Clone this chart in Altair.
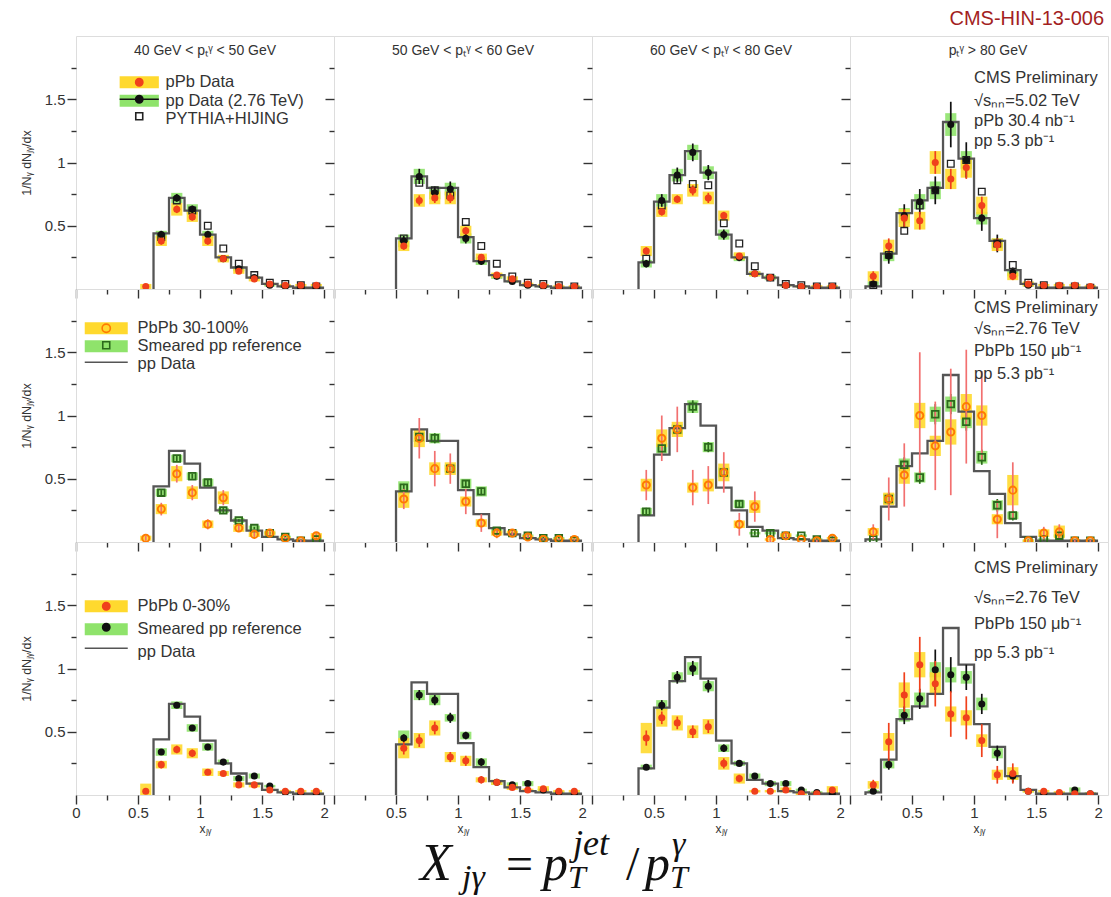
import altair as alt
import pandas as pd

# ---------------------------------------------------------------- data
c1 = [0.5625, 0.6875, 0.8125, 0.9375, 1.0625, 1.1875, 1.3125, 1.4375, 1.5625, 1.6875, 1.8125, 1.9375]
c2 = [0.5625, 0.6875, 0.8125, 0.9375, 1.0625, 1.1875, 1.3125, 1.4375, 1.5625, 1.6875, 1.8125, 1.9375]
c3 = [0.4375, 0.5625, 0.6875, 0.8125, 0.9375, 1.0625, 1.1875, 1.3125, 1.4375, 1.5625, 1.6875, 1.8125, 1.9375]
c4 = [0.1875, 0.3125, 0.4375, 0.5625, 0.6875, 0.8125, 0.9375, 1.0625, 1.1875, 1.3125, 1.4375, 1.5625, 1.6875, 1.8125, 1.9375]

# pp data histograms (bin edges / contents), one per photon-pT bin
s1_edges = [0.625, 0.75, 0.875, 1.0, 1.125, 1.25, 1.375, 1.5, 1.625, 1.75, 1.875, 2.0]
s1_vals = [0.44, 0.72, 0.62, 0.43, 0.25, 0.17, 0.09, 0.04, 0.02, 0.01, 0.01]
s2_edges = [0.5, 0.625, 0.75, 0.875, 1.0, 1.125, 1.25, 1.375, 1.5, 1.625, 1.75, 1.875, 2.0]
s2_vals = [0.40, 0.89, 0.80, 0.80, 0.41, 0.22, 0.11, 0.06, 0.03, 0.02, 0.01, 0.01]
s3_edges = [0.375, 0.5, 0.625, 0.75, 0.875, 1.0, 1.125, 1.25, 1.375, 1.5, 1.625, 1.75, 1.875, 2.0]
s3_vals = [0.21, 0.69, 0.90, 1.09, 0.92, 0.43, 0.25, 0.12, 0.09, 0.03, 0.02, 0.01, 0.01]
s4_edges = [0.125, 0.25, 0.375, 0.5, 0.625, 0.75, 0.875, 1.0, 1.125, 1.25, 1.375, 1.5, 1.625, 1.75, 1.875, 2.0]
s4_vals = [0.02, 0.28, 0.60, 0.70, 0.80, 1.32, 1.03, 0.56, 0.38, 0.15, 0.04, 0.01, 0.01, 0.01, 0.01]

# row 1: pPb
r1c1_ppb = [0.02, 0.38, 0.63, 0.57, 0.38, 0.24, 0.14, 0.08, 0.04, 0.03, 0.03, 0.03]
r1c1_ppb_stat = [0.02, 0.03, 0.03, 0.03, 0.03, 0.02, 0.02, 0.01, 0.01, 0.01, 0.01, 0.01]
r1c1_ppb_syst = [0.02, 0.04, 0.05, 0.04, 0.04, 0.03, 0.02, 0.02, 0.01, 0.01, 0.01, 0.01]
r1c1_pp = [None, 0.43, 0.72, 0.63, 0.43, 0.24, 0.16, 0.09, 0.03, 0.02, 0.01, 0.01]
r1c1_pp_stat = [0.0, 0.03, 0.03, 0.03, 0.03, 0.02, 0.02, 0.01, 0.01, 0.01, 0.01, 0.01]
r1c1_pp_syst = [0.0, 0.03, 0.04, 0.04, 0.03, 0.02, 0.02, 0.01, 0.01, 0.01, 0.01, 0.01]
r1c1_mc = [None, 0.41, 0.70, 0.62, 0.50, 0.32, 0.20, 0.11, 0.05, 0.04, 0.03, 0.02]

r1c2_ppb = [0.34, 0.70, 0.72, 0.72, 0.46, 0.25, 0.11, 0.08, 0.04, 0.03, 0.02, 0.02]
r1c2_ppb_stat = [0.03, 0.04, 0.04, 0.04, 0.03, 0.02, 0.02, 0.01, 0.01, 0.01, 0.01, 0.01]
r1c2_ppb_syst = [0.04, 0.05, 0.05, 0.05, 0.04, 0.03, 0.02, 0.02, 0.01, 0.01, 0.01, 0.01]
r1c2_pp = [0.38, 0.89, 0.76, 0.79, 0.40, 0.22, 0.10, 0.06, 0.03, 0.02, 0.01, 0.01]
r1c2_pp_stat = [0.04, 0.06, 0.05, 0.06, 0.04, 0.03, 0.02, 0.02, 0.01, 0.01, 0.01, 0.01]
r1c2_pp_syst = [0.05, 0.06, 0.05, 0.05, 0.04, 0.03, 0.02, 0.01, 0.01, 0.01, 0.01, 0.01]
r1c2_mc = [0.40, 0.84, 0.78, 0.74, 0.53, 0.34, 0.20, 0.10, 0.05, 0.04, 0.03, 0.02]

r1c3_ppb = [0.30, 0.61, 0.71, 0.78, 0.72, 0.58, 0.26, 0.12, 0.09, 0.03, 0.02, 0.02, 0.02]
r1c3_ppb_stat = [0.03, 0.03, 0.03, 0.04, 0.04, 0.03, 0.02, 0.02, 0.01, 0.01, 0.01, 0.01, 0.01]
r1c3_ppb_syst = [0.04, 0.04, 0.04, 0.05, 0.05, 0.04, 0.03, 0.02, 0.01, 0.01, 0.01, 0.01, 0.01]
r1c3_pp = [0.20, 0.70, 0.90, 1.08, 0.92, 0.43, 0.25, 0.12, 0.09, 0.03, 0.02, 0.01, 0.01]
r1c3_pp_stat = [0.03, 0.05, 0.06, 0.07, 0.06, 0.04, 0.03, 0.02, 0.02, 0.01, 0.01, 0.01, 0.01]
r1c3_pp_syst = [0.03, 0.05, 0.05, 0.06, 0.05, 0.04, 0.03, 0.02, 0.02, 0.01, 0.01, 0.01, 0.01]
r1c3_mc = [0.24, 0.66, 0.86, 0.83, 0.82, 0.52, 0.36, 0.18, 0.09, 0.04, 0.03, 0.02, 0.02]

r1c4_ppb = [0.10, 0.34, 0.56, 0.54, 1.00, 0.87, 0.96, 0.66, 0.35, 0.10, 0.04, 0.03, 0.03, 0.03, 0.02]
r1c4_ppb_stat = [0.04, 0.06, 0.07, 0.07, 0.09, 0.08, 0.09, 0.07, 0.05, 0.03, 0.02, 0.01, 0.01, 0.01, 0.01]
r1c4_ppb_syst = [0.04, 0.05, 0.07, 0.07, 0.09, 0.08, 0.08, 0.07, 0.05, 0.03, 0.02, 0.01, 0.01, 0.01, 0.01]
r1c4_pp = [0.04, 0.26, 0.58, 0.69, 0.78, 1.30, 1.02, 0.56, 0.36, 0.13, 0.03, 0.01, 0.01, 0.01, 0.01]
r1c4_pp_stat = [0.02, 0.06, 0.09, 0.10, 0.11, 0.18, 0.14, 0.10, 0.07, 0.04, 0.02, 0.01, 0.01, 0.01, 0.01]
r1c4_pp_syst = [0.02, 0.04, 0.06, 0.06, 0.07, 0.09, 0.07, 0.05, 0.04, 0.03, 0.01, 0.01, 0.01, 0.01, 0.01]
r1c4_mc = [0.03, 0.27, 0.46, 0.66, 0.78, 0.99, 1.02, 0.77, 0.36, 0.19, 0.05, 0.03, 0.02, 0.02, 0.01]

# row 2: PbPb 30-100%
r2c1_pbpb = [0.03, 0.26, 0.54, 0.39, 0.14, 0.35, 0.11, 0.06, 0.07, 0.03, 0.01, 0.05]
r2c1_pbpb_stat = [0.02, 0.05, 0.07, 0.06, 0.04, 0.06, 0.03, 0.02, 0.02, 0.01, 0.01, 0.02]
r2c1_pbpb_syst = [0.02, 0.04, 0.06, 0.05, 0.03, 0.05, 0.03, 0.02, 0.02, 0.01, 0.01, 0.02]
r2c1_ref = [None, 0.39, 0.66, 0.52, 0.47, 0.25, 0.17, 0.11, 0.07, 0.04, 0.01, 0.02]
r2c1_ref_stat = [0.0, 0.02, 0.02, 0.02, 0.02, 0.02, 0.01, 0.01, 0.01, 0.01, 0.01, 0.01]
r2c1_ref_syst = [0.0, 0.03, 0.03, 0.03, 0.03, 0.02, 0.02, 0.02, 0.01, 0.01, 0.01, 0.01]

r2c2_pbpb = [0.34, 0.82, 0.58, 0.58, 0.32, 0.15, 0.07, 0.07, 0.04, 0.02, 0.02, 0.02]
r2c2_pbpb_stat = [0.08, 0.16, 0.14, 0.12, 0.10, 0.07, 0.04, 0.03, 0.02, 0.01, 0.01, 0.01]
r2c2_pbpb_syst = [0.07, 0.07, 0.05, 0.05, 0.04, 0.03, 0.02, 0.02, 0.01, 0.01, 0.01, 0.01]
r2c2_ref = [0.43, 0.83, 0.82, 0.58, 0.46, 0.40, 0.09, 0.07, 0.05, 0.03, 0.03, 0.01]
r2c2_ref_stat = [0.03, 0.04, 0.04, 0.03, 0.03, 0.03, 0.02, 0.01, 0.01, 0.01, 0.01, 0.01]
r2c2_ref_syst = [0.05, 0.04, 0.04, 0.03, 0.04, 0.04, 0.02, 0.01, 0.01, 0.01, 0.01, 0.01]

r2c3_pbpb = [0.45, 0.82, 0.89, 0.43, 0.45, 0.55, 0.14, 0.28, 0.02, 0.05, 0.02, 0.01, 0.03]
r2c3_pbpb_stat = [0.12, 0.18, 0.18, 0.14, 0.15, 0.16, 0.09, 0.12, 0.02, 0.03, 0.01, 0.01, 0.02]
r2c3_pbpb_syst = [0.05, 0.07, 0.06, 0.04, 0.05, 0.07, 0.03, 0.05, 0.01, 0.02, 0.01, 0.01, 0.01]
r2c3_ref = [0.24, 0.74, 0.89, 1.07, 0.75, 0.55, 0.30, 0.07, 0.07, 0.05, 0.05, 0.02, 0.01]
r2c3_ref_stat = [0.03, 0.04, 0.04, 0.05, 0.04, 0.04, 0.03, 0.02, 0.02, 0.01, 0.01, 0.01, 0.01]
r2c3_ref_syst = [0.03, 0.04, 0.04, 0.05, 0.04, 0.04, 0.03, 0.01, 0.01, 0.01, 0.01, 0.01, 0.01]

r2c4_pbpb = [0.08, 0.34, 0.53, 1.00, 0.76, 0.87, 1.07, 1.00, 0.18, 0.41, 0.01, 0.07, 0.08, 0.01, 0.01]
r2c4_pbpb_stat = [0.06, 0.17, 0.25, 0.50, 0.35, 0.50, 0.45, 0.35, 0.15, 0.22, 0.01, 0.05, 0.06, 0.01, 0.01]
r2c4_pbpb_syst = [0.03, 0.05, 0.07, 0.10, 0.08, 0.10, 0.10, 0.08, 0.04, 0.12, 0.01, 0.03, 0.05, 0.01, 0.01]
r2c4_ref = [0.02, 0.34, 0.61, 0.51, 1.01, 1.09, 0.95, 0.67, 0.29, 0.21, 0.01, 0.02, 0.05, 0.01, 0.01]
r2c4_ref_stat = [0.01, 0.05, 0.06, 0.05, 0.08, 0.08, 0.07, 0.06, 0.05, 0.04, 0.01, 0.01, 0.02, 0.01, 0.01]
r2c4_ref_syst = [0.01, 0.04, 0.05, 0.04, 0.06, 0.06, 0.05, 0.05, 0.04, 0.03, 0.01, 0.01, 0.01, 0.01, 0.01]

# row 3: PbPb 0-30%
r3c1_pbpb = [0.03, 0.24, 0.36, 0.33, 0.18, 0.17, 0.08, 0.08, 0.04, 0.03, 0.03, 0.03]
r3c1_pbpb_stat = [0.02, 0.03, 0.03, 0.03, 0.02, 0.02, 0.02, 0.02, 0.01, 0.01, 0.01, 0.01]
r3c1_pbpb_syst = [0.06, 0.03, 0.04, 0.04, 0.03, 0.02, 0.02, 0.02, 0.01, 0.01, 0.01, 0.01]
r3c1_ref = [None, 0.34, 0.71, 0.53, 0.38, 0.26, 0.13, 0.15, 0.07, 0.02, 0.01, 0.01]
r3c1_ref_stat = [0.0, 0.02, 0.02, 0.02, 0.02, 0.02, 0.01, 0.01, 0.01, 0.01, 0.01, 0.01]
r3c1_ref_syst = [0.0, 0.03, 0.03, 0.03, 0.03, 0.02, 0.02, 0.02, 0.01, 0.01, 0.01, 0.01]

r3c2_pbpb = [0.37, 0.43, 0.53, 0.30, 0.27, 0.12, 0.10, 0.06, 0.04, 0.05, 0.03, 0.03]
r3c2_pbpb_stat = [0.05, 0.05, 0.05, 0.04, 0.04, 0.03, 0.02, 0.02, 0.01, 0.02, 0.01, 0.01]
r3c2_pbpb_syst = [0.08, 0.06, 0.06, 0.04, 0.04, 0.02, 0.02, 0.02, 0.01, 0.02, 0.01, 0.01]
r3c2_ref = [0.45, 0.79, 0.75, 0.61, 0.47, 0.26, 0.10, 0.08, 0.09, 0.04, 0.02, 0.01]
r3c2_ref_stat = [0.03, 0.04, 0.04, 0.04, 0.03, 0.03, 0.02, 0.02, 0.02, 0.01, 0.01, 0.01]
r3c2_ref_syst = [0.06, 0.04, 0.04, 0.03, 0.03, 0.03, 0.02, 0.02, 0.02, 0.01, 0.01, 0.01]

r3c3_pbpb = [0.45, 0.61, 0.57, 0.50, 0.54, 0.25, 0.13, 0.03, 0.03, 0.04, 0.01, 0.01, 0.04]
r3c3_pbpb_stat = [0.06, 0.05, 0.05, 0.05, 0.05, 0.04, 0.03, 0.01, 0.01, 0.02, 0.01, 0.01, 0.02]
r3c3_pbpb_syst = [0.12, 0.07, 0.06, 0.05, 0.06, 0.05, 0.04, 0.01, 0.01, 0.02, 0.01, 0.01, 0.03]
r3c3_ref = [0.22, 0.71, 0.93, 1.00, 0.86, 0.37, 0.25, 0.15, 0.09, 0.09, 0.04, 0.02, 0.01]
r3c3_ref_stat = [0.02, 0.04, 0.05, 0.06, 0.05, 0.03, 0.02, 0.02, 0.02, 0.02, 0.01, 0.01, 0.01]
r3c3_ref_syst = [0.02, 0.04, 0.04, 0.05, 0.04, 0.03, 0.02, 0.02, 0.02, 0.02, 0.01, 0.01, 0.01]

r3c4_pbpb = [0.08, 0.42, 0.79, 1.03, 0.88, 0.64, 0.61, 0.43, 0.16, 0.17, 0.03, 0.03, 0.02, 0.01, 0.01]
r3c4_pbpb_stat = [0.04, 0.15, 0.18, 0.22, 0.18, 0.18, 0.17, 0.13, 0.07, 0.08, 0.01, 0.01, 0.01, 0.01, 0.01]
r3c4_pbpb_syst = [0.03, 0.07, 0.10, 0.10, 0.09, 0.06, 0.06, 0.05, 0.04, 0.05, 0.01, 0.01, 0.01, 0.01, 0.01]
r3c4_ref = [0.03, 0.24, 0.63, 0.76, 0.99, 0.95, 0.93, 0.72, 0.33, 0.15, 0.03, 0.01, 0.01, 0.04, 0.01]
r3c4_ref_stat = [0.01, 0.04, 0.07, 0.08, 0.16, 0.14, 0.10, 0.08, 0.06, 0.05, 0.01, 0.01, 0.01, 0.01, 0.01]
r3c4_ref_syst = [0.01, 0.03, 0.05, 0.05, 0.06, 0.06, 0.05, 0.05, 0.04, 0.03, 0.01, 0.01, 0.01, 0.02, 0.01]

# texts
heads = ["40 GeV < pₜᵞ < 50 GeV", "50 GeV < pₜᵞ < 60 GeV", "60 GeV < pₜᵞ < 80 GeV", "pₜᵞ > 80 GeV"]
notes_r1 = ["CMS Preliminary", "√sₙₙ=5.02 TeV", "pPb 30.4 nb⁻¹", "pp 5.3 pb⁻¹"]
notes_r2 = ["CMS Preliminary", "√sₙₙ=2.76 TeV", "PbPb 150 μb⁻¹", "pp 5.3 pb⁻¹"]
notes_r3 = ["CMS Preliminary", "√sₙₙ=2.76 TeV", "PbPb 150 μb⁻¹", "pp 5.3 pb⁻¹"]
legend_r1 = ["pPb Data", "pp Data (2.76 TeV)", "PYTHIA+HIJING"]
legend_r2 = ["PbPb 30-100%", "Smeared pp reference", "pp Data"]
legend_r3 = ["PbPb 0-30%", "Smeared pp reference", "pp Data"]
x_ticks = [0, 0.25, 0.5, 0.75, 1.0, 1.25, 1.5, 1.75, 2.0]
y_ticks = [0.25, 0.5, 0.75, 1.0, 1.25, 1.5, 1.75]
x_title = "xⱼᵧ"
y_title = "1/Nᵧ dNⱼᵧ/dx"
top_label = "CMS-HIN-13-006"
formula_parts = ["X", "jγ", "=", "p", "jet", "T", "/", "p", "γ", "T"]

# ---------------------------------------------------------------- style
FONT = "Liberation Sans"
SERIF = "Liberation Serif"
W, H = 258, 253
XMAX = 2.08
BOX_HW = 0.045
AXC = "#333333"
YELLOW = "#ffd92e"
GREEN = "#8fe36b"
RED = "#f0401c"
LIGHTRED = "#f27070"
ORANGE = "#ff7b00"
DKGREEN = "#2c6a1c"
BLACK = "#111111"
STEPC = "#555555"

STY = {
    "ppb": dict(box=YELLOW, err=RED, mark=dict(shape="circle", filled=True, color=RED, size=50)),
    "pp": dict(box=GREEN, err=BLACK, mark=dict(shape="circle", filled=True, color=BLACK, size=50)),
    "mc": dict(box=None, err=None, mark=dict(shape="square", filled=False, color="#222222", size=44, strokeWidth=1.3)),
    "hi30": dict(box=YELLOW, err=LIGHTRED, mark=dict(shape="circle", filled=False, color=ORANGE, size=50, strokeWidth=2)),
    "ref30": dict(box=GREEN, err=DKGREEN, mark=dict(shape="square", filled=False, color=DKGREEN, size=44, strokeWidth=1.8)),
    "hi0": dict(box=YELLOW, err=RED, mark=dict(shape="circle", filled=True, color=RED, size=50)),
    "ref0": dict(box=GREEN, err=BLACK, mark=dict(shape="circle", filled=True, color=BLACK, size=50)),
}

XS = alt.Scale(domain=[0, XMAX], nice=False, zero=False)
YS = alt.Scale(domain=[0, 2], nice=False, zero=False)
TICKSIZE = {"condition": {"test": "(datum.value * 4) % 2 === 0", "value": 9}, "value": 5}


def points_df(xs, vals, stat, syst):
    rows = []
    for i, (x, v) in enumerate(zip(xs, vals)):
        if v is None:
            continue
        rows.append({"x": x, "v": v, "lo": v - stat[i], "hi": v + stat[i],
                     "slo": max(v - syst[i], 0.0), "shi": v + syst[i],
                     "bx0": x - BOX_HW, "bx1": x + BOX_HW})
    return pd.DataFrame(rows)


def step_df(edges, vals):
    xs = [edges[0]] + list(edges)
    ys = [0.0] + list(vals) + [vals[-1]]
    return pd.DataFrame({"x": xs, "y": ys, "i": list(range(len(xs)))})


def x_axis(col, row):
    kw = dict(values=x_ticks, domain=False, grid=False, tickColor=AXC, tickWidth=1.4,
              tickSize=TICKSIZE, labelOverlap=False, labelFlush=False)
    if row == 2:
        if col == 0:
            expr = "(datum.value * 4) % 2 === 0 ? format(datum.value, '~g') : ''"
        else:
            expr = "datum.value > 0 && (datum.value * 4) % 2 === 0 ? format(datum.value, '~g') : ''"
        kw.update(labels=True, labelExpr=expr, labelFont=FONT, labelFontSize=15, labelColor=AXC,
                  labelPadding=1, title=x_title, titleFont=FONT, titleFontSize=12,
                  titleFontWeight="normal", titleColor=AXC, titlePadding=3)
    else:
        kw.update(labels=False, title=None)
    return alt.Axis(**kw)


def y_axis(col):
    kw = dict(values=y_ticks, domain=False, grid=False, tickColor=AXC, tickWidth=1.4,
              tickSize=TICKSIZE, labelOverlap=False, labelFlush=False)
    if col == 0:
        kw.update(labels=True,
                  labelExpr="(datum.value * 4) % 2 === 0 ? format(datum.value, '~g') : ''",
                  labelFont=FONT, labelFontSize=15, labelColor=AXC, labelPadding=2,
                  title=y_title, titleFont=FONT, titleFontSize=12.5, titleFontWeight="normal",
                  titleColor=AXC, titlePadding=11)
    else:
        kw.update(labels=False, title=None)
    return alt.Axis(**kw)


def circ(r):
    return f"M-{r},0A{r},{r} 0 1,0 {r},0A{r},{r} 0 1,0 -{r},0Z"


def legend_layers(labels, boxcols, paths, fills, strokes, lx, ly, rowpad, laboff, boxhw):
    common = dict(orient="none", legendX=lx, legendY=ly, title=None, symbolSize=40,
                  symbolStrokeWidth=1.6, symbolOpacity=1, labelFont=FONT, labelFontSize=16.5,
                  labelColor=AXC, labelOffset=laboff, labelLimit=400, rowPadding=rowpad,
                  padding=0, offset=0)
    box = f"M-{boxhw},-1.9H{boxhw}V1.9H-{boxhw}Z"
    la = alt.Chart(pd.DataFrame({"lab": labels})).transform_filter("false").mark_point(opacity=1).encode(
        fill=alt.Fill("lab:N", scale=alt.Scale(domain=labels, range=boxcols),
                      legend=alt.Legend(symbolType=box, symbolStrokeColor="transparent", **common)))
    mks = ["mk" + str(i) for i in range(len(labels))]
    lgb = alt.Legend(labelOpacity=0, **common)
    lb = alt.Chart(pd.DataFrame({"mk": mks})).transform_filter("false").mark_point(opacity=1).encode(
        fill=alt.Fill("mk:N", scale=alt.Scale(domain=mks, range=fills), legend=lgb),
        stroke=alt.Stroke("mk:N", scale=alt.Scale(domain=mks, range=strokes), legend=lgb),
        shape=alt.Shape("mk:N", scale=alt.Scale(domain=mks, range=paths), legend=lgb))
    return [la, lb]


def text_layer(s, px, py, size, align="left", color=AXC, font=FONT, style="normal",
               clip=False, baseline="middle"):
    return alt.Chart(pd.DataFrame({"t": [s]})).mark_text(
        font=font, fontSize=size, align=align, baseline=baseline, color=color,
        fontStyle=style, clip=clip).encode(x=alt.value(px), y=alt.value(py), text="t:N")


def formula_layers():
    # X_jγ = p_T^jet / p_T^γ, placed below the bottom-left panel (y measured from its top)
    fpos = [(344, 85, 52, "italic"), (386, 93, 34, "italic"), (430, 85, 48, "normal"),
            (467, 85, 50, "italic"), (497, 60, 36, "italic"), (492, 93, 32, "italic"),
            (550, 85, 48, "normal"), (569, 85, 50, "italic"), (596, 60, 34, "italic"),
            (594, 93, 32, "italic")]
    return [text_layer(t, px, H + py, fs, color="#111111", font=SERIF, style=sty, baseline="alphabetic")
            for t, (px, py, fs, sty) in zip(formula_parts, fpos)]


def panel(row, col, series, sedges, svals, legend=None, notes=None, note_y=None, extra=None):
    xa, ya = x_axis(col, row), y_axis(col)
    layers = []
    for key, df in series:
        st = STY[key]
        if st["box"]:
            layers.append(alt.Chart(df).mark_rect(color=st["box"], opacity=0.9, clip=True).encode(
                x=alt.X("bx0:Q", scale=XS, axis=xa), x2="bx1:Q",
                y=alt.Y("slo:Q", scale=YS, axis=ya), y2="shi:Q"))
    layers.append(alt.Chart(step_df(sedges, svals)).mark_line(
        interpolate="step-after", color=STEPC, strokeWidth=2.3, clip=True).encode(
        x=alt.X("x:Q", scale=XS, axis=xa), y=alt.Y("y:Q", scale=YS, axis=ya), order="i:Q"))
    for key, df in series:
        st = STY[key]
        if st["err"]:
            layers.append(alt.Chart(df).mark_rule(color=st["err"], strokeWidth=1.7, clip=True).encode(
                x=alt.X("x:Q", scale=XS, axis=xa), y=alt.Y("lo:Q", scale=YS, axis=ya), y2="hi:Q"))
    for key, df in series:
        st = STY[key]
        layers.append(alt.Chart(df).mark_point(opacity=1, clip=True, **st["mark"]).encode(
            x=alt.X("x:Q", scale=XS, axis=xa), y=alt.Y("v:Q", scale=YS, axis=ya)))
    if row == 0:
        layers.append(text_layer(heads[col], 138 if col == 3 else 129, 15, 14, align="center"))
    if notes:
        for s, yy in zip(notes, note_y):
            layers.append(text_layer(s, 124, yy, 16.5, clip=True))
    if legend:
        layers += legend
    if extra:
        layers += extra
    return alt.layer(*layers).resolve_scale(
        fill="independent", stroke="independent", shape="independent").properties(width=W, height=H)


def S(key, xs, v, stat=None, syst=None):
    z = [0.0] * len(xs)
    return (key, points_df(xs, v, stat or z, syst or z))


# ---------------------------------------------------------------- panels
DOT = circ(1.15)
SQ = "M-1.1,-1.1H1.1V1.1H-1.1Z"
leg1 = legend_layers(legend_r1, [YELLOW, GREEN, "transparent"],
                     [DOT, "M-6.2,0H6.2M-1.15,0A1.15,1.15 0 1,0 1.15,0A1.15,1.15 0 1,0 -1.15,0Z", SQ],
                     [RED, BLACK, "white"], [RED, BLACK, "#222222"], 55, 38, -0.5, 18, 6.2)
leg2 = legend_layers(legend_r2, [YELLOW, GREEN, "transparent"],
                     [circ(1.3), SQ, "M-6.8,0H6.8"],
                     ["transparent", "transparent", "transparent"], [ORANGE, DKGREEN, STEPC], 22, 31, -1, 23, 6.8)
leg3 = legend_layers(legend_r3, [YELLOW, GREEN, "transparent"],
                     [DOT, DOT, "M-6.8,0H6.8"],
                     [RED, BLACK, "transparent"], [RED, BLACK, STEPC], 22, 56, 4, 23, 6.8)

top_tag = [text_layer(top_label, W - 4, -17, 20, align="right", color="#a31f1f")]

panels = [
    panel(0, 0, [S("mc", c1, r1c1_mc), S("pp", c1, r1c1_pp, r1c1_pp_stat, r1c1_pp_syst),
                 S("ppb", c1, r1c1_ppb, r1c1_ppb_stat, r1c1_ppb_syst)], s1_edges, s1_vals, legend=leg1),
    panel(0, 1, [S("mc", c2, r1c2_mc), S("pp", c2, r1c2_pp, r1c2_pp_stat, r1c2_pp_syst),
                 S("ppb", c2, r1c2_ppb, r1c2_ppb_stat, r1c2_ppb_syst)], s2_edges, s2_vals),
    panel(0, 2, [S("mc", c3, r1c3_mc), S("pp", c3, r1c3_pp, r1c3_pp_stat, r1c3_pp_syst),
                 S("ppb", c3, r1c3_ppb, r1c3_ppb_stat, r1c3_ppb_syst)], s3_edges, s3_vals),
    panel(0, 3, [S("mc", c4, r1c4_mc), S("pp", c4, r1c4_pp, r1c4_pp_stat, r1c4_pp_syst),
                 S("ppb", c4, r1c4_ppb, r1c4_ppb_stat, r1c4_ppb_syst)], s4_edges, s4_vals,
          notes=notes_r1, note_y=[42, 65, 85, 105], extra=top_tag),
    panel(1, 0, [S("ref30", c1, r2c1_ref, r2c1_ref_stat, r2c1_ref_syst),
                 S("hi30", c1, r2c1_pbpb, r2c1_pbpb_stat, r2c1_pbpb_syst)], s1_edges, s1_vals, legend=leg2),
    panel(1, 1, [S("ref30", c2, r2c2_ref, r2c2_ref_stat, r2c2_ref_syst),
                 S("hi30", c2, r2c2_pbpb, r2c2_pbpb_stat, r2c2_pbpb_syst)], s2_edges, s2_vals),
    panel(1, 2, [S("ref30", c3, r2c3_ref, r2c3_ref_stat, r2c3_ref_syst),
                 S("hi30", c3, r2c3_pbpb, r2c3_pbpb_stat, r2c3_pbpb_syst)], s3_edges, s3_vals),
    panel(1, 3, [S("ref30", c4, r2c4_ref, r2c4_ref_stat, r2c4_ref_syst),
                 S("hi30", c4, r2c4_pbpb, r2c4_pbpb_stat, r2c4_pbpb_syst)], s4_edges, s4_vals,
          notes=notes_r2, note_y=[19, 40, 62, 85]),
    panel(2, 0, [S("ref0", c1, r3c1_ref, r3c1_ref_stat, r3c1_ref_syst),
                 S("hi0", c1, r3c1_pbpb, r3c1_pbpb_stat, r3c1_pbpb_syst)], s1_edges, s1_vals, legend=leg3,
          extra=formula_layers()),
    panel(2, 1, [S("ref0", c2, r3c2_ref, r3c2_ref_stat, r3c2_ref_syst),
                 S("hi0", c2, r3c2_pbpb, r3c2_pbpb_stat, r3c2_pbpb_syst)], s2_edges, s2_vals),
    panel(2, 2, [S("ref0", c3, r3c3_ref, r3c3_ref_stat, r3c3_ref_syst),
                 S("hi0", c3, r3c3_pbpb, r3c3_pbpb_stat, r3c3_pbpb_syst)], s3_edges, s3_vals),
    panel(2, 3, [S("ref0", c4, r3c4_ref, r3c4_ref_stat, r3c4_ref_syst),
                 S("hi0", c4, r3c4_pbpb, r3c4_pbpb_stat, r3c4_pbpb_syst)], s4_edges, s4_vals,
          notes=notes_r3, note_y=[26, 56, 82, 111]),
]

RES = dict(fill="independent", stroke="independent", shape="independent")
chart = alt.concat(*panels, columns=4, spacing=0, bounds="flush").resolve_scale(**RES).properties(
    padding={"left": 19, "top": 8, "right": 0, "bottom": 0},
).configure_view(stroke="#333333", strokeWidth=1.8).configure(font=FONT)

chart.save("out.html", embed_options={"renderer": "svg", "actions": False})
